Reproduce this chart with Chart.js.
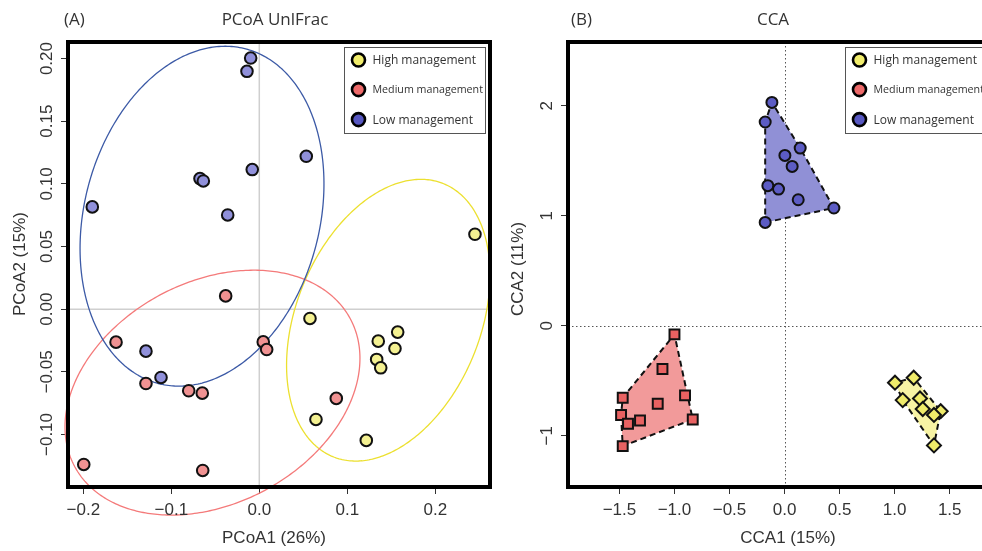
<!DOCTYPE html>
<html><head><meta charset="utf-8">
<script src="https://cdn.jsdelivr.net/npm/chart.js@4.4.1/dist/chart.umd.min.js"></script>
<style>
html,body{margin:0;padding:0;background:#fff;overflow:hidden;width:982px;height:551px;}
#wrap{position:relative;width:982px;height:551px;overflow:hidden;background:#fff;}
#cA{position:absolute;left:0;top:0;}
#cB{position:absolute;left:500px;top:0;}
</style></head><body>
<div id="wrap"><canvas id="cA" width="500" height="551"></canvas><canvas id="cB" width="510" height="551"></canvas></div>
<script>
// ---------- data ----------
const groupLabels = ['High management', 'Medium management', 'Low management'];

// Panel A: PCoA UniFrac scores
const pcoaHighX = [0.0576, 0.1573, 0.1352, 0.1542, 0.1334, 0.1380, 0.0644, 0.1216, 0.2451];
const pcoaHighY = [-0.0074, -0.0183, -0.0255, -0.0314, -0.0401, -0.0468, -0.0880, -0.1047, 0.0598];
const pcoaMedX = [-0.0382, -0.1628, -0.1288, -0.0802, -0.0648, -0.1995, -0.0643, 0.0045, 0.0084, 0.0875];
const pcoaMedY = [0.0106, -0.0263, -0.0593, -0.0651, -0.0670, -0.1239, -0.1287, -0.0261, -0.0322, -0.0712];
const pcoaLowX = [-0.0098, -0.0140, -0.0080, -0.0674, -0.0636, -0.1898, -0.0359, 0.0534, -0.1288, -0.1117];
const pcoaLowY = [0.2004, 0.1898, 0.1114, 0.1042, 0.1023, 0.0816, 0.0752, 0.1220, -0.0335, -0.0545];

// Panel A: group ellipses (high, medium, low): centre, half extents, correlation
const ellipseCenterX = [0.1466, -0.0532, -0.0651];
const ellipseCenterY = [-0.0088, -0.0666, 0.0742];
const ellipseHalfWidth = [0.1156, 0.1676, 0.1386];
const ellipseHalfHeight = [0.1124, 0.0977, 0.1356];
const ellipseCorr = [0.32, 0.28, 0.19];

const pcoaXRange = [-0.2174, 0.2622];
const pcoaYRange = [-0.1419, 0.2132];
const pcoaXTicks = [-0.2, -0.1, 0, 0.1, 0.2];
const pcoaXTickLabels = ['\u22120.2', '\u22120.1', '0.0', '0.1', '0.2'];
const pcoaYTicks = [-0.10, -0.05, 0, 0.05, 0.10, 0.15, 0.20];
const pcoaYTickLabels = ['\u22120.10', '\u22120.05', '0.00', '0.05', '0.10', '0.15', '0.20'];

// Panel B: CCA site scores
const ccaHighX = [1.173, 1.003, 1.230, 1.073, 1.255, 1.418, 1.357, 1.357];
const ccaHighY = [-0.473, -0.518, -0.661, -0.676, -0.757, -0.777, -0.811, -1.088];
const ccaMedX = [-1.000, -1.109, -0.904, -1.470, -1.152, -1.485, -1.313, -1.422, -0.834, -1.470];
const ccaMedY = [-0.079, -0.394, -0.633, -0.655, -0.709, -0.812, -0.861, -0.891, -0.852, -1.094];
const ccaLowX = [-0.115, -0.176, 0.142, 0.003, 0.069, -0.152, -0.055, 0.124, 0.448, -0.176];
const ccaLowY = [2.030, 1.852, 1.615, 1.548, 1.448, 1.273, 1.242, 1.145, 1.070, 0.939];

const ccaXRange = [-1.967, 1.875];
const ccaYRange = [-1.466, 2.579];
const ccaXTicks = [-1.5, -1.0, -0.5, 0, 0.5, 1.0, 1.5];
const ccaXTickLabels = ['\u22121.5', '\u22121.0', '\u22120.5', '0.0', '0.5', '1.0', '1.5'];
const ccaYTicks = [-1, 0, 1, 2];
const ccaYTickLabels = ['\u22121', '0', '1', '2'];

// ---------- styles ----------
const legendFill = ['#f1ed6c', '#ee6a6a', '#5858c2'];
const pcoaFill = ['#f4f192', '#f09292', '#9090da'];
const ellipseStroke = ['#ece030', '#f47a7a', '#3c5aa6'];
const ccaFill = ['#efeb6a', '#e86262', '#5c5cc4'];
const hullFill = ['#f7f3a4', '#f29a9a', '#9090d6'];
const ccaShape = ['rectRot', 'rect', 'circle'];
const ccaRadius = [7, 7, 5.5];
const legendFontSize = [12, 10.7, 12];

const tickFont = '17px "Liberation Sans", Arial, sans-serif';
const textColor = '#333';

function pts(xs, ys) { return xs.map((x, i) => ({ x: x, y: ys[i] })); }

function convexHull(p) {
  const s = p.slice().sort((a, b) => a.x - b.x || a.y - b.y);
  const cross = (o, a, b) => (a.x - o.x) * (b.y - o.y) - (a.y - o.y) * (b.x - o.x);
  const lo = [], up = [];
  for (const q of s) { while (lo.length >= 2 && cross(lo[lo.length - 2], lo[lo.length - 1], q) <= 0) lo.pop(); lo.push(q); }
  for (let i = s.length - 1; i >= 0; i--) { const q = s[i]; while (up.length >= 2 && cross(up[up.length - 2], up[up.length - 1], q) <= 0) up.pop(); up.push(q); }
  up.pop(); lo.pop();
  return lo.concat(up);
}

function drawDecor(chart, cfg) {
  const { ctx, chartArea: a, scales: { x, y } } = chart;
  ctx.save();
  // frame
  ctx.strokeStyle = '#000'; ctx.lineWidth = 4;
  ctx.strokeRect(a.left, a.top, a.right - a.left, a.bottom - a.top);
  // tick labels
  ctx.font = tickFont; ctx.fillStyle = textColor;
  ctx.textAlign = 'center'; ctx.textBaseline = 'middle';
  cfg.xt.forEach((v, i) => ctx.fillText(cfg.xl[i], x.getPixelForValue(v), 510));
  cfg.yt.forEach((v, i) => {
    ctx.save(); ctx.translate(a.left - 21, y.getPixelForValue(v)); ctx.rotate(-Math.PI / 2);
    ctx.fillText(cfg.yl[i], 0, 0); ctx.restore();
  });
  // axis titles
  ctx.fillText(cfg.xTitle, cfg.xTitlePos, 538);
  ctx.save(); ctx.translate(cfg.yTitleX, cfg.yTitleY); ctx.rotate(-Math.PI / 2);
  ctx.fillText(cfg.yTitle, 0, 0); ctx.restore();
  // titles
  ctx.font = '17px "Open Sans", sans-serif';
  ctx.textAlign = 'left'; ctx.fillText(cfg.tag, cfg.tagX, 20);
  ctx.textAlign = 'center'; ctx.fillText(cfg.title, cfg.titleX, 20);
  // legend
  const bl = a.right - 146, bt = a.top + 5;
  ctx.fillStyle = '#fff'; ctx.fillRect(bl, bt, 141.5, 86.5);
  ctx.strokeStyle = '#555'; ctx.lineWidth = 1;
  ctx.strokeRect(bl + 0.5, bt + 0.5, 141, 86);
  const rowY = [13, 42.6, 72.6];
  groupLabels.forEach((lab, i) => {
    ctx.beginPath(); ctx.arc(bl + 14.5, bt + rowY[i], 6.5, 0, Math.PI * 2);
    ctx.fillStyle = legendFill[i]; ctx.fill();
    ctx.lineWidth = 2.6; ctx.strokeStyle = '#000'; ctx.stroke();
    ctx.fillStyle = textColor; ctx.textAlign = 'left'; ctx.textBaseline = 'middle';
    ctx.font = legendFontSize[i] + 'px "Open Sans", sans-serif';
    ctx.fillText(lab, bl + 28.5, bt + rowY[i] + 0.5);
  });
  ctx.restore();
}

function baseOptions(xr, yr, xt, yt, rightPad) {
  return {
    responsive: false, animation: false, devicePixelRatio: 1,
    layout: { padding: { top: 42, right: rightPad, left: 0, bottom: 0 } },
    plugins: { legend: { display: false }, tooltip: { enabled: false }, title: { display: false } },
    scales: {
      x: {
        type: 'linear', position: 'bottom', min: xr[0], max: xr[1],
        afterBuildTicks: s => { s.ticks = xt.map(v => ({ value: v })); },
        afterFit: s => { s.height = 64; },
        ticks: { display: false },
        grid: { drawOnChartArea: false, drawTicks: true, tickLength: 7, tickColor: '#333', lineWidth: 1 },
        border: { display: false }
      },
      y: {
        type: 'linear', position: 'left', min: yr[0], max: yr[1],
        afterBuildTicks: s => { s.ticks = yt.map(v => ({ value: v })); },
        afterFit: s => { s.width = 68; },
        ticks: { display: false },
        grid: { drawOnChartArea: false, drawTicks: true, tickLength: 7, tickColor: '#333', lineWidth: 1 },
        border: { display: false }
      }
    }
  };
}

// ---------- Panel A ----------
const pluginA = {
  id: 'pluginA',
  beforeDatasetsDraw(chart) {
    const { ctx, chartArea: a, scales: { x, y } } = chart;
    ctx.save();
    ctx.strokeStyle = '#cfcfcf'; ctx.lineWidth = 1.5;
    const x0 = x.getPixelForValue(0), y0 = y.getPixelForValue(0);
    ctx.beginPath(); ctx.moveTo(x0, a.top); ctx.lineTo(x0, a.bottom);
    ctx.moveTo(a.left, y0); ctx.lineTo(a.right, y0); ctx.stroke();
    for (let g = 0; g < 3; g++) {
      const phi = Math.acos(ellipseCorr[g]);
      ctx.beginPath();
      for (let k = 0; k <= 360; k++) {
        const t = k / 360 * 2 * Math.PI;
        const px = x.getPixelForValue(ellipseCenterX[g] + ellipseHalfWidth[g] * Math.cos(t));
        const py = y.getPixelForValue(ellipseCenterY[g] + ellipseHalfHeight[g] * Math.cos(t - phi));
        if (k === 0) ctx.moveTo(px, py); else ctx.lineTo(px, py);
      }
      ctx.closePath();
      ctx.strokeStyle = ellipseStroke[g]; ctx.lineWidth = 1.3; ctx.stroke();
    }
    ctx.restore();
  },
  afterDraw(chart) {
    drawDecor(chart, {
      xt: pcoaXTicks, xl: pcoaXTickLabels, yt: pcoaYTicks, yl: pcoaYTickLabels,
      xTitle: 'PCoA1 (26%)', xTitlePos: 274, yTitle: 'PCoA2 (15%)', yTitleX: 20, yTitleY: 264,
      tag: '(A)', tagX: 64, title: 'PCoA UnlFrac', titleX: 275
    });
  }
};

const pcoaSets = [[pcoaHighX, pcoaHighY], [pcoaMedX, pcoaMedY], [pcoaLowX, pcoaLowY]];
new Chart(document.getElementById('cA'), {
  type: 'scatter',
  data: {
    datasets: pcoaSets.map((s, i) => ({
      label: groupLabels[i], data: pts(s[0], s[1]),
      pointRadius: 5.8, pointBorderWidth: 2, pointBorderColor: '#111', pointBackgroundColor: pcoaFill[i],
      order: 2 - i
    }))
  },
  options: baseOptions(pcoaXRange, pcoaYRange, pcoaXTicks, pcoaYTicks, 10),
  plugins: [pluginA]
});

// ---------- Panel B ----------
const ccaSets = [[ccaHighX, ccaHighY], [ccaMedX, ccaMedY], [ccaLowX, ccaLowY]];
const pluginB = {
  id: 'pluginB',
  beforeDatasetsDraw(chart) {
    const { ctx, chartArea: a, scales: { x, y } } = chart;
    ctx.save();
    ctx.strokeStyle = '#555'; ctx.lineWidth = 1; ctx.setLineDash([1.5, 2.5]);
    const x0 = Math.round(x.getPixelForValue(0)) + 0.5, y0 = Math.round(y.getPixelForValue(0)) + 0.5;
    ctx.beginPath(); ctx.moveTo(x0, a.top); ctx.lineTo(x0, a.bottom);
    ctx.moveTo(a.left, y0); ctx.lineTo(a.right, y0); ctx.stroke();
    ctx.setLineDash([]);
    ccaSets.forEach((s, g) => {
      const hull = convexHull(pts(s[0], s[1]));
      ctx.beginPath();
      hull.forEach((p, k) => {
        const px = x.getPixelForValue(p.x), py = y.getPixelForValue(p.y);
        if (k === 0) ctx.moveTo(px, py); else ctx.lineTo(px, py);
      });
      ctx.closePath();
      ctx.fillStyle = hullFill[g]; ctx.fill();
      ctx.setLineDash([6, 4]); ctx.lineWidth = 2; ctx.strokeStyle = '#111'; ctx.stroke();
      ctx.setLineDash([]);
    });
    ctx.restore();
  },
  afterDraw(chart) {
    drawDecor(chart, {
      xt: ccaXTicks, xl: ccaXTickLabels, yt: ccaYTicks, yl: ccaYTickLabels,
      xTitle: 'CCA1 (15%)', xTitlePos: 288, yTitle: 'CCA2 (11%)', yTitleX: 18, yTitleY: 269,
      tag: '(B)', tagX: 71, title: 'CCA', titleX: 273
    });
  }
};

new Chart(document.getElementById('cB'), {
  type: 'scatter',
  data: {
    datasets: ccaSets.map((s, i) => ({
      label: groupLabels[i], data: pts(s[0], s[1]),
      pointStyle: ccaShape[i], pointRadius: ccaRadius[i], pointBorderWidth: 2,
      pointBorderColor: '#111', pointBackgroundColor: ccaFill[i], order: 2 - i
    }))
  },
  options: baseOptions(ccaXRange, ccaYRange, ccaXTicks, ccaYTicks, 19),
  plugins: [pluginB]
});
</script>
</body></html>
